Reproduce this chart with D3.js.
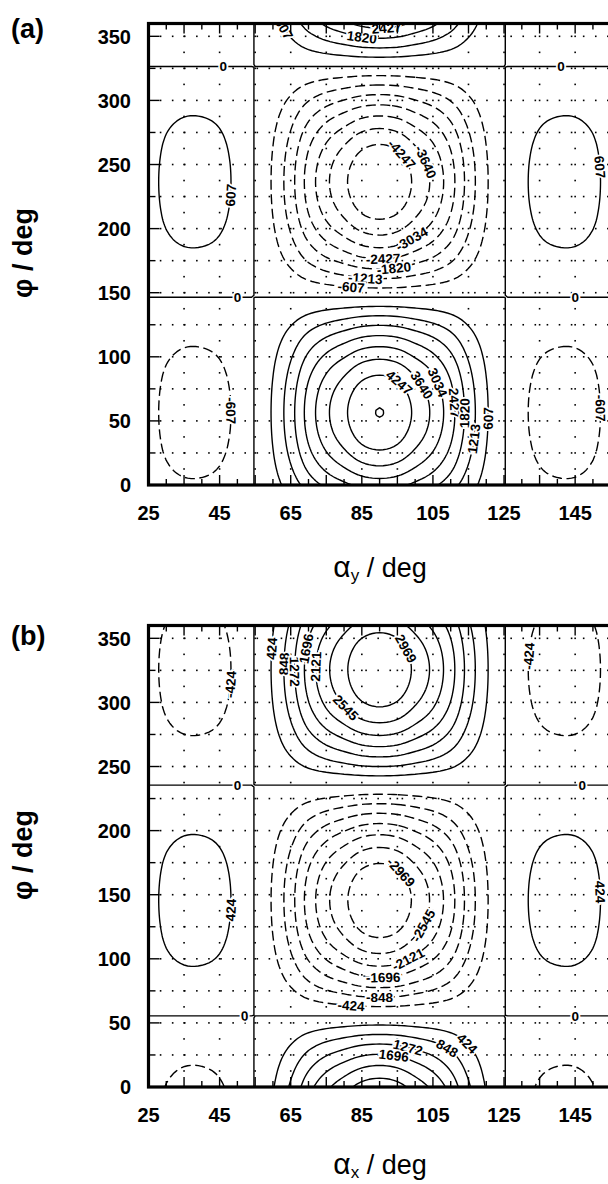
<!DOCTYPE html>
<html>
<head>
<meta charset="utf-8">
<script src="https://cdn.jsdelivr.net/npm/d3@7"></script>
<style>
  body { margin: 0; background: #fff; }
  svg { display: block; font-family: "Liberation Sans", Arial, sans-serif; }
</style>
</head>
<body>
<svg id="chart" width="608" height="1184"></svg>
<script>
// tick labels
const ALPHA_TICKS = [25, 45, 65, 85, 105, 125, 145];
const PHI_TICKS = [0, 50, 100, 150, 200, 250, 300, 350];

const alphaSamples = [25, 30, 35, 40, 45, 50, 55, 60, 65, 70, 75, 80, 85, 90,
  95, 100, 105, 110, 115, 120, 125, 130, 135, 140, 145, 150, 155];
const alphaProfile = [-0.085, -0.157, -0.196, -0.197, -0.167, -0.095, 0.008, 0.141, 0.326, 0.549, 0.723, 0.849, 0.962, 1.0,
  0.962, 0.849, 0.723, 0.549, 0.326, 0.141, 0.008, -0.095, -0.167, -0.197, -0.196, -0.157, -0.085];

// phi dependence, one per panel
const phiSamples = [0, 15, 30, 45, 60, 75, 90, 105, 120, 135, 150, 165, 180,
  195, 210, 225, 240, 255, 270, 285, 300, 315, 330, 345, 360];
const phiProfileA = [0.552, 0.749, 0.895, 0.980, 0.998, 0.948, 0.834, 0.663, 0.446, 0.199, -0.061, -0.317, -0.552,
  -0.749, -0.895, -0.980, -0.998, -0.948, -0.834, -0.663, -0.446, -0.199, 0.061, 0.317, 0.552];
const phiProfileB = [0.824, 0.649, 0.431, 0.182, -0.078, -0.334, -0.566, -0.760, -0.903, -0.983, -0.997, -0.943, -0.824,
  -0.649, -0.431, -0.182, 0.078, 0.334, 0.566, 0.760, 0.903, 0.983, 0.997, 0.943, 0.824];

const amplitudeA = 4864;
const amplitudeB = 3393;

const levelsA = [-4247, -3640, -3034, -2427, -1820, -1213, -607, 0, 607, 1213, 1820, 2427, 3034, 3640, 4247, 4853];
const levelsB = [-2969, -2545, -2121, -1696, -1272, -848, -424, 0, 424, 848, 1272, 1696, 2121, 2545, 2969];

// contour labels: [level, alpha, phi]
const labelsA = [
  [0, 45.6, 326], [0, 141.2, 326], [0, 49.8, 146], [0, 145, 146.5],
  [607, 59.8, 350], [1820, 85.3, 352], [2427, 92, 359],
  [607, 47.9, 227], [607, 152.5, 248],
  [-4247, 94.3, 253], [-3640, 101.8, 250.7], [-3034, 97.6, 196], [-2427, 91, 180.5],
  [-1820, 93.8, 171.9], [-1213, 86.4, 163], [-607, 81.7, 155.5],
  [4247, 94.3, 75], [3640, 100.8, 76], [3034, 105.6, 78.9], [2427, 110.3, 63.3],
  [1820, 113.6, 56.5], [1213, 116.4, 37], [607, 121, 52.6],
  [-607, 48.9, 59], [-607, 152.5, 61]
];
const labelsB = [
  [-424, 48.9, 314.6], [-424, 133.2, 336.7],
  [424, 59.7, 342], [848, 63.4, 330], [1272, 66.2, 325], [1696, 70.4, 340.6],
  [2121, 74.2, 327.6], [2545, 81.7, 300], [2969, 95.3, 339],
  [0, 50.3, 235.7], [0, 147.3, 236.5], [0, 51.7, 56.8], [0, 145.4, 56.8],
  [424, 48.4, 137.5], [424, 153, 151.8],
  [-2969, 94.8, 163.5], [-2545, 100.4, 128.4], [-2121, 96.7, 104.9], [-1696, 91, 89.3],
  [-848, 90.1, 72.4], [-424, 81.7, 65.9],
  [1272, 97.6, 29.4], [1696, 93.9, 21.6], [848, 108.9, 29.4], [424, 114.5, 33.4]
];

const svg = d3.select("#chart");
const x = d3.scaleLinear().domain([25, 155]).range([148.5, 610.7]);

// Catmull-Rom through the sampled profile
function profileAt(xs, ys, v, periodic) {
  const step = xs[1] - xs[0];
  const n = ys.length;
  if (periodic) {
    const period = xs[n - 1] - xs[0];
    v = ((v - xs[0]) % period + period) % period + xs[0];
  } else {
    v = Math.max(xs[0], Math.min(xs[n - 1], v));
  }
  let i = Math.min(n - 2, Math.floor((v - xs[0]) / step));
  const t = (v - xs[i]) / step;
  const m = n - 1;
  const at = (k) => {
    if (periodic) return ys[((k % m) + m) % m];
    return ys[Math.max(0, Math.min(n - 1, k))];
  };
  const p0 = at(i - 1), p1 = at(i), p2 = at(i + 1), p3 = at(i + 2);
  return 0.5 * (2 * p1 + (p2 - p0) * t + (2 * p0 - 5 * p1 + 4 * p2 - p3) * t * t
    + (-p0 + 3 * p1 - 3 * p2 + p3) * t * t * t);
}

const GRID_A0 = 20, GRID_DA = 1, GRID_P0 = -10, GRID_DP = 2;
const gridAlpha = d3.range(GRID_A0, 160.01, GRID_DA);
const gridPhi = d3.range(GRID_P0, 370.01, GRID_DP);

function drawPanel(p) {
  const y = d3.scaleLinear().domain([0, 360]).range([p.bottom, p.top]);
  const root = svg.append("g");
  const clipId = "clip-" + p.id;
  root.append("clipPath").attr("id", clipId).append("rect")
    .attr("x", x(25)).attr("y", y(360))
    .attr("width", x(155) - x(25)).attr("height", y(0) - y(360));

  // dotted grid
  const dots = [];
  d3.range(35, 156, 10).forEach(a => d3.range(0, 360.1, 12.5).forEach(f => dots.push([a, f])));
  d3.range(25, 351, 25).forEach(f => d3.range(25, 156, 3.4).forEach(a => dots.push([a, f])));
  root.append("g").attr("clip-path", `url(#${clipId})`)
    .selectAll("rect").data(dots).join("rect")
    .attr("x", d => x(d[0]) - 0.8).attr("y", d => y(d[1]) - 0.8)
    .attr("width", 1.6).attr("height", 1.6).attr("fill", "#000");

  // surface values on a grid
  const nx = gridAlpha.length, ny = gridPhi.length;
  const gA = gridAlpha.map(a => profileAt(alphaSamples, alphaProfile, a, false));
  const hP = gridPhi.map(f => profileAt(phiSamples, p.phiProfile, f, true));
  const values = new Float64Array(nx * ny);
  for (let j = 0; j < ny; j++)
    for (let i = 0; i < nx; i++) values[j * nx + i] = p.amp * gA[i] * hP[j];

  const contours = d3.contours().size([nx, ny]).thresholds(p.levels)(values);
  const toPx = ([cx, cy]) => [x(GRID_A0 + (cx - 0.5) * GRID_DA), y(GRID_P0 + (cy - 0.5) * GRID_DP)];
  const path = d3.geoPath(d3.geoTransform({
    point(px, py) { const q = toPx([px, py]); this.stream.point(q[0], q[1]); }
  }));

  const plot = root.append("g").attr("clip-path", `url(#${clipId})`);
  plot.append("g").selectAll("path").data(contours).join("path")
    .attr("d", path)
    .attr("fill", "none")
    .attr("stroke", "#000")
    .attr("stroke-width", 1.4)
    .attr("stroke-linejoin", d => d.value > 4800 ? "miter" : "round")
    .attr("stroke-dasharray", d => d.value < 0 ? "10,4.5" : null);

  // labels along the contours
  const labelData = p.labels.map(([level, a, f]) => {
    const c = contours.find(d => d.value === level);
    const tx = x(a), ty = y(f);
    let best = null, bestD = Infinity;
    c.coordinates.forEach(poly => poly.forEach(ring => {
      const pts = ring.map(toPx);
      pts.forEach((q, i) => {
        const dd = (q[0] - tx) ** 2 + (q[1] - ty) ** 2;
        if (dd < bestD) { bestD = dd; best = { pts, i }; }
      });
    }));
    const n = best.pts.length;
    const q = best.pts[best.i];
    const q0 = best.pts[(best.i - 3 + n) % n], q1 = best.pts[(best.i + 3) % n];
    let ang = Math.atan2(q1[1] - q0[1], q1[0] - q0[0]) * 180 / Math.PI;
    if (ang > 90) ang -= 180;
    if (ang <= -90) ang += 180;
    return { text: String(level), x: q[0], y: q[1], ang };
  });
  plot.append("g").selectAll("text").data(labelData).join("text")
    .attr("transform", d => `translate(${d.x},${d.y}) rotate(${d.ang})`)
    .attr("text-anchor", "middle")
    .attr("dy", "0.36em")
    .attr("font-size", 13.5)
    .attr("font-weight", "bold")
    .attr("fill", "#000")
    .attr("stroke", "#fff")
    .attr("stroke-width", 3.5)
    .attr("paint-order", "stroke")
    .text(d => d.text);

  // ticks
  const ticks = root.append("g").attr("stroke", "#000").attr("stroke-width", 1.4);
  d3.range(30, 155, 5).forEach(a => {
    const len = a % 10 === 5 ? 10 : 6;
    ticks.append("line").attr("x1", x(a)).attr("x2", x(a)).attr("y1", y(0)).attr("y2", y(0) - len);
    ticks.append("line").attr("x1", x(a)).attr("x2", x(a)).attr("y1", y(360)).attr("y2", y(360) + len);
  });
  d3.range(25, 360, 25).forEach(f => {
    const len = f % 50 === 0 ? 11 : 7;
    ticks.append("line").attr("x1", x(25)).attr("x2", x(25) + len).attr("y1", y(f)).attr("y2", y(f));
  });

  // frame
  root.append("rect")
    .attr("x", x(25)).attr("y", y(360))
    .attr("width", x(155) - x(25)).attr("height", y(0) - y(360))
    .attr("fill", "none").attr("stroke", "#000").attr("stroke-width", 3.2);

  // tick labels
  root.append("g").selectAll("text").data(ALPHA_TICKS).join("text")
    .attr("x", d => x(d)).attr("y", p.bottom + 35)
    .attr("text-anchor", "middle").attr("font-size", 20).attr("font-weight", "bold")
    .text(d => d);
  root.append("g").selectAll("text").data(PHI_TICKS).join("text")
    .attr("x", 131).attr("y", d => y(d)).attr("dy", "0.36em")
    .attr("text-anchor", "end").attr("font-size", 20).attr("font-weight", "bold")
    .text(d => d);

  // panel letter
  root.append("text").attr("x", 11).attr("y", p.letterY)
    .attr("font-size", 27).attr("font-weight", "bold").text(p.letter);

  // axis titles
  const xt = root.append("text").attr("x", 380).attr("y", p.xTitleY)
    .attr("text-anchor", "middle").attr("font-size", 27);
  xt.append("tspan").attr("font-size", 30).text("α");
  xt.append("tspan").attr("font-size", 17).attr("dy", 4).text(p.sub);
  xt.append("tspan").attr("dy", -4).text(" / deg");

  root.append("text")
    .attr("transform", `translate(32,${p.yTitleC}) rotate(-90)`)
    .attr("text-anchor", "middle").attr("font-size", 27).attr("font-weight", "bold")
    .text("φ / deg");
}

drawPanel({ id: "a", top: 23.5, bottom: 485, phiProfile: phiProfileA, amp: amplitudeA,
  levels: levelsA, labels: labelsA, letter: "(a)", sub: "y", letterY: 38, xTitleY: 577, yTitleC: 253 });
drawPanel({ id: "b", top: 625.5, bottom: 1087, phiProfile: phiProfileB, amp: amplitudeB,
  levels: levelsB, labels: labelsB, letter: "(b)", sub: "x", letterY: 645, xTitleY: 1174, yTitleC: 855 });
</script>
</body>
</html>
